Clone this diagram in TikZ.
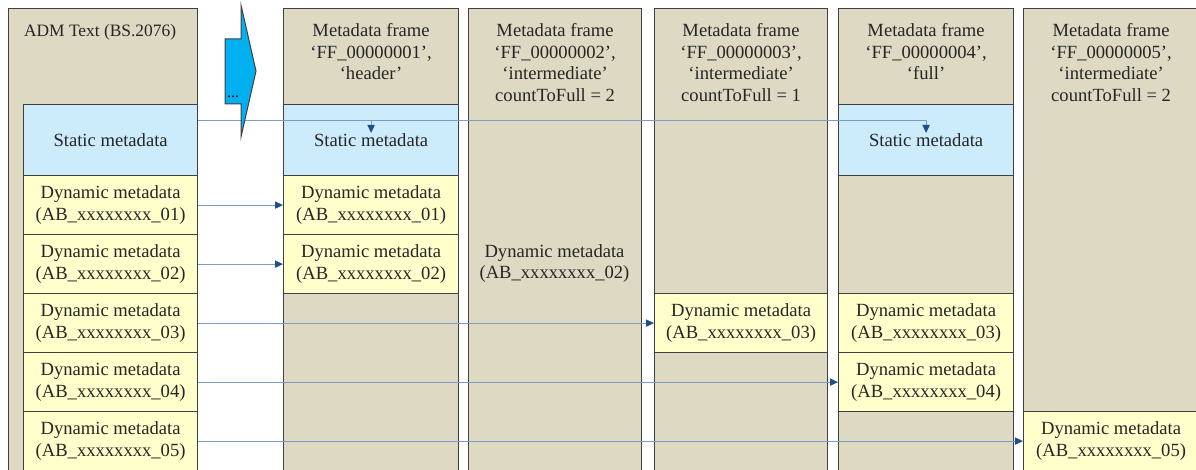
\documentclass[tikz,border=0pt]{standalone}
\usepackage{fontspec}
\setmainfont{Liberation Serif}
\usetikzlibrary{arrows.meta}
\definecolor{tan}{HTML}{DDD9C3}
\definecolor{statblue}{HTML}{CCEBFB}
\definecolor{dynyellow}{HTML}{FFFFCC}
\definecolor{edge}{HTML}{404040}
\definecolor{ink}{HTML}{262626}
\definecolor{linkblue}{HTML}{7C9CC8}
\definecolor{tipblue}{HTML}{1F4E8C}
\definecolor{cyanarrow}{HTML}{00B0F0}
\tikzset{>=stealth}
\tikzset{
  frame/.style = {draw=edge, fill=tan, line width=0.6pt, inner sep=0pt, anchor=north west, minimum height=236pt},
  box/.style = {draw=edge, line width=0.6pt, inner sep=0pt, anchor=north west, align=center, text=ink, minimum height=29.5pt},
  dyn/.style = {box, fill=dynyellow},
  stat/.style = {box, fill=statblue, minimum height=35.5pt},
  head/.style = {anchor=north, align=center, inner sep=0pt, text=ink},
  link/.style = {draw=linkblue, line width=0.5pt, -{Triangle[length=4pt, width=3.6pt, color=tipblue, fill=tipblue]}}
}

\begin{document}
\begin{tikzpicture}[x=0.5pt, y=-0.5pt, font=\fontsize{9.3}{10.8}\selectfont]
	\useasboundingbox (0,0) rectangle (1196,470);
	\clip (0,0) rectangle (1196,469.5);
	% frames
	\node (fa) [frame, minimum width=94.5pt] at (8,8) {};
	\node (fb) [frame, minimum width=87.5pt] at (283,8) {};
	\node (fc) [frame, minimum width=86.5pt] at (468,8) {};
	\node (fd) [frame, minimum width=86.5pt] at (654,8) {};
	\node (fe) [frame, minimum width=87.5pt] at (838,8) {};
	\node (ff) [frame, minimum width=87.5pt] at (1023,8) {};
	% headers
	\node (ha) [head, font=\fontsize{8.7}{10.8}\selectfont] at ([xshift=-1.5pt, yshift=-8pt]fa.north) {ADM Text (BS.2076)};
	\node (hb) [head] at ([yshift=-7.5pt]fb.north) {Metadata frame\\`FF\_00000001',\\`header'};
	\node (hc) [head] at ([yshift=-7.5pt]fc.north) {Metadata frame\\`FF\_00000002',\\`intermediate'\\countToFull = 2};
	\node (hd) [head] at ([yshift=-7.5pt]fd.north) {Metadata frame\\`FF\_00000003',\\`intermediate'\\countToFull = 1};
	\node (he) [head] at ([yshift=-7.5pt]fe.north) {Metadata frame\\`FF\_00000004',\\`full'};
	\node (hf) [head] at ([yshift=-7.5pt]ff.north) {Metadata frame\\`FF\_00000005',\\`intermediate'\\countToFull = 2};
	% static metadata
	\node (as) [stat, minimum width=87pt] at (23,104) {Static metadata};
	\node (bs) [stat, minimum width=87.5pt] at (283,104) {Static metadata};
	\node (es) [stat, minimum width=87.5pt] at (838,104) {Static metadata};
	% dynamic metadata
	\foreach \i in {1,...,5}
	\node (a\i) [dyn, minimum width=87pt] at (23,{175+59*(\i-1)}) {Dynamic metadata\\(AB\_xxxxxxxx\_0\i)};
	\node (b1) [dyn, minimum width=87.5pt] at (283,175) {Dynamic metadata\\(AB\_xxxxxxxx\_01)};
	\node (b2) [dyn, minimum width=87.5pt] at (283,234) {Dynamic metadata\\(AB\_xxxxxxxx\_02)};
	\node (c2) [align=center, text=ink, inner sep=0pt] at (554.5,263.5) {Dynamic metadata\\(AB\_xxxxxxxx\_02)};
	\node (d3) [dyn, minimum width=86.5pt] at (654,293) {Dynamic metadata\\(AB\_xxxxxxxx\_03)};
	\node (e3) [dyn, minimum width=87.5pt] at (838,293) {Dynamic metadata\\(AB\_xxxxxxxx\_03)};
	\node (e4) [dyn, minimum width=87.5pt] at (838,352) {Dynamic metadata\\(AB\_xxxxxxxx\_04)};
	\node (f5) [dyn, minimum width=87.5pt] at (1023,411) {Dynamic metadata\\(AB\_xxxxxxxx\_05)};
	% links
	\coordinate (tap) at ([yshift=-8.5pt]as.north east);
	\draw[link] (tap) -| ([yshift=-14.5pt]es.north);
	\draw[link] (tap -| bs.north) -- ([yshift=-14.5pt]bs.north);
	\foreach \s/\t in {a1/b1, a2/b2, a3/d3, a4/e4, a5/f5}
	\draw[link] (\s.east) -- (\t.west);
	% block arrow
	\draw[draw=edge, fill=cyanarrow, line width=0.5pt] (241,5) -- (256,71) -- (241,137) -- (241,104) -- (225,104) -- (225,39) -- (241,39) -- cycle;
	\node (more) [anchor=base, inner sep=0pt, font=\fontsize{8}{9}\selectfont] at (233,98) {...};
\end{tikzpicture}
\end{document}
